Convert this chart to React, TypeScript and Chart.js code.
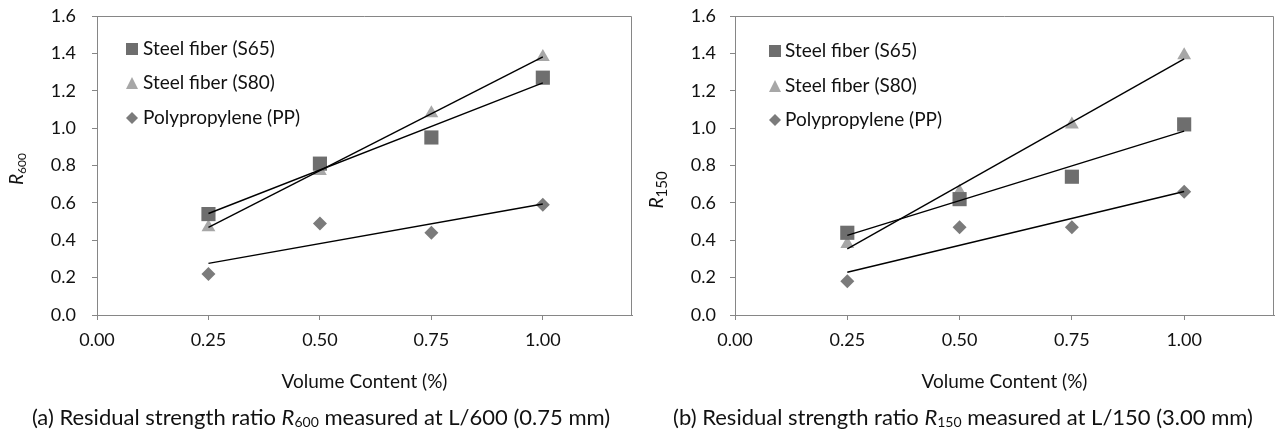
import React, { useEffect, useRef } from 'react';
import { Chart, registerables } from 'chart.js';

Chart.register(...registerables);

// ---------- data ----------
const volumeContent = [0.25, 0.5, 0.75, 1.0];
const seriesNames = ['Steel fiber (S65)', 'Steel fiber (S80)', 'Polypropylene (PP)'];

const r600S65 = [0.54, 0.81, 0.95, 1.27];
const r600S80 = [0.47, 0.77, 1.08, 1.38];
const r600PP = [0.22, 0.49, 0.44, 0.59];

const r150S65 = [0.44, 0.62, 0.74, 1.02];
const r150S80 = [0.38, 0.66, 1.02, 1.39];
const r150PP = [0.18, 0.47, 0.47, 0.66];

const xTickValues = [0, 0.25, 0.5, 0.75, 1.0];
const yTickValues = [0, 0.2, 0.4, 0.6, 0.8, 1.0, 1.2, 1.4, 1.6];
const xTitle = 'Volume Content (%)';

// ---------- styles ----------
const FONT = 'Lato, "Open Sans", sans-serif';
const AXIS_COLOR = '#868686';
const TEXT_COLOR = '#111111';
const markerColors = ['#6e6e6e', '#a7a7a7', '#7b7b7b'];
const markerStyles = ['rect', 'triangle', 'rectRot'];
const markerRadius = [10, 8, 7];

function linearFit(xs: number[], ys: number[]) {
  const n = xs.length;
  const mx = xs.reduce((a, b) => a + b, 0) / n;
  const my = ys.reduce((a, b) => a + b, 0) / n;
  let sxy = 0;
  let sxx = 0;
  for (let i = 0; i < n; i++) {
    sxy += (xs[i] - mx) * (ys[i] - my);
    sxx += (xs[i] - mx) * (xs[i] - mx);
  }
  const slope = sxy / sxx;
  const icpt = my - slope * mx;
  const x0 = Math.min(...xs);
  const x1 = Math.max(...xs);
  return [
    { x: x0, y: icpt + slope * x0 },
    { x: x1, y: icpt + slope * x1 },
  ];
}

function drawMarker(ctx: CanvasRenderingContext2D, style: string, x: number, y: number, size: number, color: string) {
  ctx.save();
  ctx.fillStyle = color;
  ctx.beginPath();
  if (style === 'rect') {
    ctx.rect(x - size / 2, y - size / 2, size, size);
  } else if (style === 'triangle') {
    ctx.moveTo(x, y - size / 2);
    ctx.lineTo(x + size / 2, y + size / 2);
    ctx.lineTo(x - size / 2, y + size / 2);
    ctx.closePath();
  } else {
    ctx.moveTo(x, y - size / 2);
    ctx.lineTo(x + size / 2, y);
    ctx.lineTo(x, y + size / 2);
    ctx.lineTo(x - size / 2, y);
    ctx.closePath();
  }
  ctx.fill();
  ctx.restore();
}

type Seg = { text: string; font: string; dy?: number };

function drawSegments(ctx: CanvasRenderingContext2D, segs: Seg[], cx: number, baseline: number) {
  let total = 0;
  for (const s of segs) {
    ctx.font = s.font;
    total += ctx.measureText(s.text).width;
  }
  let x = cx - total / 2;
  ctx.textAlign = 'left';
  ctx.textBaseline = 'alphabetic';
  for (const s of segs) {
    ctx.font = s.font;
    ctx.fillText(s.text, x, baseline + (s.dy || 0));
    x += ctx.measureText(s.text).width;
  }
}

type PanelCfg = {
  series: number[][];
  sub: string;
  subSize: number;
  subDy: number;
  captionPre: string;
  captionPost: string;
  yAxisWidth: number;
  padRight: number;
  yPad: number;
  legendMarkerDx: number;
  legendTextDx: number;
  legendRows: number[];
  yTitleX: number;
  yTitleY: number;
};

function zeroPadding(s: any) {
  s.paddingTop = 0;
  s.paddingBottom = 0;
  s.paddingLeft = 0;
  s.paddingRight = 0;
}

function makeChart(canvas: HTMLCanvasElement, cfg: PanelCfg) {
  const trendSets = cfg.series.map((ys) => ({
    data: linearFit(volumeContent, ys),
    showLine: true,
    borderColor: '#000000',
    borderWidth: 1.4,
    pointRadius: 0,
    order: 0,
  }));
  const markerSets = cfg.series.map((ys, i) => ({
    label: seriesNames[i],
    data: volumeContent.map((x, j) => ({ x, y: ys[j] })),
    showLine: false,
    pointStyle: markerStyles[i],
    pointRadius: markerRadius[i],
    backgroundColor: markerColors[i],
    borderColor: markerColors[i],
    borderWidth: 0,
    order: 1,
  }));

  const decor = {
    id: 'decor',
    afterDraw(chart: any) {
      const ctx = chart.ctx as CanvasRenderingContext2D;
      const a = chart.chartArea;
      ctx.save();
      // plot frame (top & right)
      ctx.strokeStyle = AXIS_COLOR;
      ctx.lineWidth = 1;
      ctx.beginPath();
      ctx.moveTo(a.left, a.top + 0.5);
      ctx.lineTo(a.right - 0.5, a.top + 0.5);
      ctx.lineTo(a.right - 0.5, a.bottom);
      ctx.stroke();

      // legend
      const legendSizes = [12, 12, 12];
      seriesNames.forEach((name, i) => {
        const y = a.top + cfg.legendRows[i];
        drawMarker(ctx, markerStyles[i], a.left + cfg.legendMarkerDx, y, legendSizes[i], markerColors[i]);
        ctx.fillStyle = TEXT_COLOR;
        ctx.font = `19px ${FONT}`;
        ctx.textAlign = 'left';
        ctx.textBaseline = 'middle';
        ctx.fillText(name, a.left + cfg.legendTextDx, y);
      });

      // x title
      ctx.fillStyle = TEXT_COLOR;
      ctx.font = `19px ${FONT}`;
      ctx.textAlign = 'center';
      ctx.textBaseline = 'middle';
      ctx.fillText(xTitle, (a.left + a.right) / 2, 382);

      // y title (rotated)
      ctx.save();
      ctx.translate(cfg.yTitleX, cfg.yTitleY);
      ctx.rotate(-Math.PI / 2);
      drawSegments(
        ctx,
        [
          { text: 'R', font: `italic 19px ${FONT}` },
          { text: cfg.sub, font: `${cfg.subSize}px ${FONT}`, dy: cfg.subDy },
        ],
        0,
        6
      );
      ctx.restore();

      // caption
      ctx.fillStyle = TEXT_COLOR;
      drawSegments(
        ctx,
        [
          { text: cfg.captionPre, font: `22px ${FONT}` },
          { text: 'R', font: `italic 22px ${FONT}` },
          { text: cfg.sub, font: `14px ${FONT}`, dy: 2 },
          { text: cfg.captionPost, font: `22px ${FONT}` },
        ],
        chart.width / 2,
        425
      );
      ctx.restore();
    },
  };

  return new Chart(canvas, {
    type: 'scatter',
    data: { datasets: [...trendSets, ...markerSets] as any },
    options: {
      animation: false,
      responsive: false,
      devicePixelRatio: 1,
      layout: { padding: { top: 16, right: cfg.padRight, left: 0, bottom: 0 } },
      plugins: { legend: { display: false }, tooltip: { enabled: false } },
      scales: {
        x: {
          type: 'linear',
          min: 0,
          max: 1.2,
          afterBuildTicks: (s: any) => {
            s.ticks = xTickValues.map((v) => ({ value: v }));
          },
          afterFit: (s: any) => {
            s.height = 116;
            zeroPadding(s);
          },
          ticks: {
            font: { family: FONT, size: 18 },
            color: TEXT_COLOR,
            padding: 9,
            callback: (v: any) => Number(v).toFixed(2),
          },
          grid: { drawOnChartArea: false, drawTicks: true, tickLength: 5, color: AXIS_COLOR },
          border: { color: AXIS_COLOR, width: 1 },
        },
        y: {
          type: 'linear',
          min: 0,
          max: 1.6,
          afterBuildTicks: (s: any) => {
            s.ticks = yTickValues.map((v) => ({ value: v }));
          },
          afterFit: (s: any) => {
            s.width = cfg.yAxisWidth;
            zeroPadding(s);
          },
          ticks: {
            font: { family: FONT, size: 18 },
            color: TEXT_COLOR,
            padding: cfg.yPad,
            callback: (v: any) => Number(v).toFixed(1),
          },
          grid: { drawOnChartArea: false, drawTicks: true, tickLength: 5, color: AXIS_COLOR },
          border: { color: AXIS_COLOR, width: 1 },
        },
      },
    } as any,
    plugins: [decor],
  });
}

const leftCfg: PanelCfg = {
  series: [r600S65, r600S80, r600PP],
  sub: '600',
  subSize: 12,
  subDy: 3,
  captionPre: '(a) Residual strength ratio ',
  captionPost: ' measured at L/600 (0.75 mm)',
  yAxisWidth: 97,
  padRight: 6,
  yPad: 16,
  legendMarkerDx: 35,
  legendTextDx: 46,
  legendRows: [33, 67, 102],
  yTitleX: 17,
  yTitleY: 169,
};

const rightCfg: PanelCfg = {
  series: [r150S65, r150S80, r150PP],
  sub: '150',
  subSize: 15,
  subDy: 4,
  captionPre: '(b) Residual strength ratio ',
  captionPost: ' measured at L/150 (3.00 mm)',
  yAxisWidth: 93,
  padRight: 2,
  yPad: 14,
  legendMarkerDx: 40,
  legendTextDx: 50,
  legendRows: [35, 70, 104],
  yTitleX: 15,
  yTitleY: 190,
};

export default function App() {
  const leftRef = useRef<HTMLCanvasElement>(null);
  const rightRef = useRef<HTMLCanvasElement>(null);

  useEffect(() => {
    const c1 = makeChart(leftRef.current!, leftCfg);
    const c2 = makeChart(rightRef.current!, rightCfg);
    return () => {
      c1.destroy();
      c2.destroy();
    };
  }, []);

  return (
    <div style={{ position: 'absolute', left: 0, top: 0, width: 1284, height: 431, background: '#ffffff' }}>
      <canvas ref={leftRef} width={642} height={431} style={{ position: 'absolute', left: 0, top: 0, width: 642, height: 431 }} />
      <canvas ref={rightRef} width={642} height={431} style={{ position: 'absolute', left: 642, top: 0, width: 642, height: 431 }} />
    </div>
  );
}
